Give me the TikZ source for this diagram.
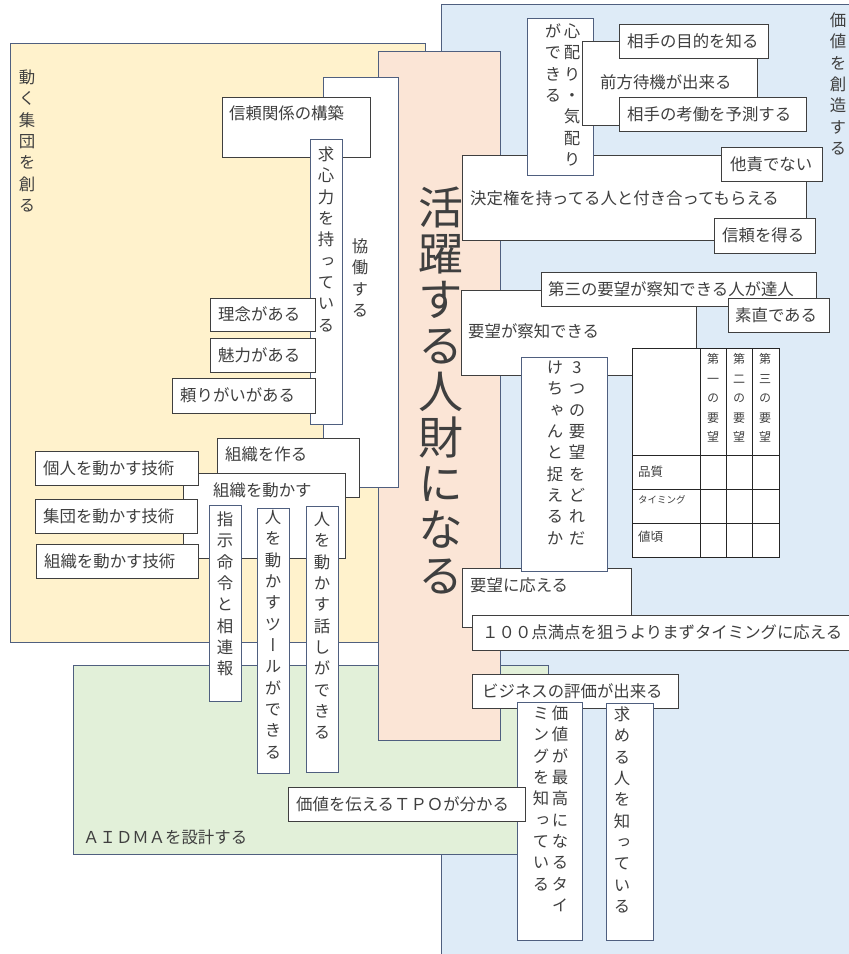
\documentclass[tikz,border=0pt]{standalone}
\usepackage{fontspec}
\setmainfont{Noto Sans CJK JP}
\newfontfamily\vjp[RawFeature=+vert]{Noto Sans CJK JP}
\definecolor{bluebg}{HTML}{DEEBF7}
\definecolor{yelbg}{HTML}{FFF2CC}
\definecolor{grnbg}{HTML}{E2F0D9}
\definecolor{salbg}{HTML}{FBE5D6}
\definecolor{bgray}{HTML}{4F5F7F}
\definecolor{dgray}{HTML}{3F3F3F}
\definecolor{tgray}{HTML}{3F3F3F}
\makeatletter
\def\vt@loop#1{%
  \ifx\relax#1\else
    \hbox to 1em{\hss\vrule width0pt height.88em depth.12em\relax#1\hss}%
    \expandafter\vt@loop
  \fi}
\newcommand\vt[2][1.3em]{\vbox{\vjp\baselineskip=#1\relax\lineskiplimit=-100pt\lineskip=0pt\relax\vt@loop#2\relax}}
\makeatother
\newcommand\rb[6][wbox]{\node[#1,minimum width=#4pt-#2pt,minimum height=#5pt-#3pt,anchor=north west] (#6) at (#2,#3) {};}
\tikzset{
  wbox/.style={draw=dgray, fill=white, line width=0.95pt, inner sep=0pt, outer sep=0pt},
  vbx/.style={draw=bgray, fill=white, line width=0.9pt, inner sep=0pt, outer sep=0pt},
  tbox/.style={draw=black!85, fill=white, line width=1pt, inner sep=0pt, outer sep=0pt},
  tline/.style={draw=black!85, line width=1pt},
  bg/.style={draw=bgray, line width=0.8pt},
  ht/.style={inner sep=0pt, anchor=west, text height=14.4pt, text depth=2pt, font=\fontsize{16.4}{20}\selectfont, text=tgray},
  vtx/.style={inner sep=0pt, anchor=north, font=\fontsize{16.4}{20}\selectfont, text=tgray},
  smt/.style={inner sep=0pt, anchor=west, text height=11pt, text depth=1.5pt, font=\fontsize{12.5}{14}\selectfont, text=tgray},
  tnt/.style={inner sep=0pt, anchor=west, text height=8.4pt, text depth=1.1pt, font=\fontsize{9.5}{11}\selectfont, text=tgray},
}
\begin{document}
\begin{tikzpicture}[x=1pt,y=-1pt]
\useasboundingbox (0,0) rectangle (849,954);
% background regions
\filldraw[bg, fill=bluebg] (441,4) rectangle (870,980);
\filldraw[bg, fill=yelbg] (10,43) rectangle (425,642);
\filldraw[bg, fill=grnbg] (73,665) rectangle (548,854);
\filldraw[bg, fill=salbg] (378,51) rectangle (500,740);
% region labels
\node[vtx] (lblL) at (27,69) {\vt{動く集団を創る}};
\node[vtx] (lblR) at (838,12) {\vt{価値を創造する}};
\node[ht] (lblG) at (83,837) {ＡＩＤＭＡを設計する};
\node[vtx, font=\fontsize{45}{46}\selectfont] (main) at (441,185) {\vt[46pt]{活躍する人財になる}};
% left group
\rb[vbx]{323}{77}{398}{487}{kyo}
\node[vtx] (kyot) at (360,238) {\vt{協働する}};
\rb{222}{97}{370}{157}{shin}
\node[ht] (shint) at (229,113) {信頼関係の構築};
\rb[vbx]{310}{139}{342}{424}{kyu}
\node[vtx] (kyut) at (326,146) {\vt{求心力を持っている}};
\rb{210}{298}{315}{331}{rinen}
\node[ht] (rinent) at (218,314.5) {理念がある};
\rb{210}{338}{315}{372}{miryoku}
\node[ht] (miryokut) at (218,355) {魅力がある};
\rb{172}{378}{315}{413}{tayori}
\node[ht] (tayorit) at (180,395.5) {頼りがいがある};
\rb{217}{438}{359}{497}{tsukuru}
\node[ht] (tsukurut) at (225,454) {組織を作る};
\rb{183}{473}{345}{558}{ugokasu}
\node[ht] (ugokasut) at (213,490) {組織を動かす};
\rb{35}{451}{198}{485}{kojin}
\node[ht] (kojint) at (43,468) {個人を動かす技術};
\rb{35}{499}{197}{533}{shudan}
\node[ht] (shudant) at (43,516) {集団を動かす技術};
\rb{36}{544}{198}{578}{soshiki}
\node[ht] (soshikit) at (44,561) {組織を動かす技術};
\rb[vbx]{209}{505}{241}{701}{shiji}
\node[vtx] (shijit) at (225,511) {\vt{指示命令と相連報}};
\rb[vbx]{257}{508}{289}{773}{tool}
\node[vtx] (toolt) at (273,509) {\vt{人を動かすツールができる}};
\rb[vbx]{306}{506}{338}{772}{hanashi}
\node[vtx] (hanashit) at (322,511) {\vt{人を動かす話しができる}};
% right group
\rb{462}{155}{806}{240}{kettei}
\node[ht] (ketteit) at (470,198) {決定権を持ってる人と付き合ってもらえる};
\rb[vbx]{527}{18}{593}{175}{kokoro}
\node[vtx] (kokorot) at (572,23) {\vt{心配り・気配り}};
\node[vtx] (kokorou) at (553,23) {\vt{ができる}};
\rb{582}{41}{757}{125}{zenpo}
\node[ht] (zenpot) at (600,82) {前方待機が出来る};
\rb{619}{24}{768}{58}{mokuteki}
\node[ht] (mokutekit) at (627,41) {相手の目的を知る};
\rb{619}{97}{806}{131}{kodo}
\node[ht] (kodot) at (627,114) {相手の考働を予測する};
\rb{721}{147}{822}{181}{taseki}
\node[ht] (tasekit) at (730,164) {他責でない};
\rb{714}{218}{815}{253}{shinrai}
\node[ht] (shinrait) at (722,235.5) {信頼を得る};
\rb{461}{290}{696}{375}{sacchi}
\node[ht] (sacchit) at (468,331) {要望が察知できる};
\rb{541}{272}{816}{306}{daisan}
\node[ht] (daisant) at (548,289) {第三の要望が察知できる人が達人};
\rb{728}{298}{829}{332}{sunao}
\node[ht] (sunaot) at (735,315) {素直である};
\rb{462}{568}{631}{627}{kotae}
\node[ht] (kotaet) at (470,585) {要望に応える};
\rb[vbx]{521}{357}{607}{571}{mittsu}
\node[vtx] (mittsut) at (577,359) {\vt{3つの要望をどれだ}};
\node[vtx] (mittsuu) at (555,359) {\vt{けちゃんと捉えるか}};
% table
\rb[tbox]{632}{348}{779}{557}{tbl}
\draw[tline] (700,348) -- (700,557);
\draw[tline] (726,348) -- (726,557);
\draw[tline] (752,348) -- (752,557);
\draw[tline] (632,455) -- (779,455);
\draw[tline] (632,489) -- (779,489);
\draw[tline] (632,523) -- (779,523);
\node[vtx, font=\fontsize{12}{14}\selectfont] (h1) at (713,353) {\vt[19.5pt]{第一の要望}};
\node[vtx, font=\fontsize{12}{14}\selectfont] (h2) at (739,353) {\vt[19.5pt]{第二の要望}};
\node[vtx, font=\fontsize{12}{14}\selectfont] (h3) at (765,353) {\vt[19.5pt]{第三の要望}};
\node[smt] (r1) at (638,472) {品質};
\node[tnt] (r2) at (638,500) {タイミング};
\node[smt] (r3) at (638,537) {値頃};
% lower right
\rb{472}{615}{860}{650}{hyaku}
\node[ht] (hyakut) at (482,632) {１００点満点を狙うよりまずタイミングに応える};
\rb{472}{674}{678}{708}{biz}
\node[ht] (bizt) at (482,691) {ビジネスの評価が出来る};
\rb[vbx]{517}{702}{582}{940}{saiko}
\node[vtx] (saikot) at (560,705) {\vt{価値が最高になるタイ}};
\node[vtx] (saikou) at (541,705) {\vt{ミングを知っている}};
\rb[vbx]{606}{703}{653}{940}{motomeru}
\node[vtx] (motomerut) at (622,706) {\vt{求める人を知っている}};
\rb{288}{787}{525}{821}{tpo}
\node[ht] (tpot) at (296,804) {価値を伝えるＴＰＯが分かる};
\end{tikzpicture}
\end{document}
